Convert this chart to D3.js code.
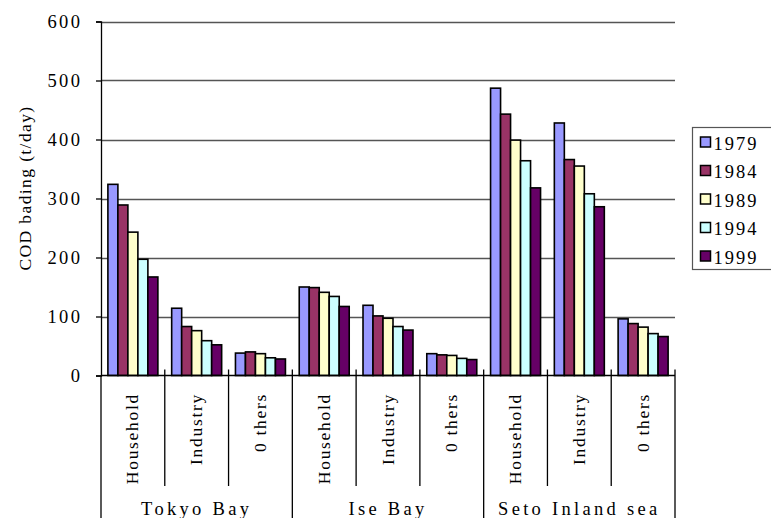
<!DOCTYPE html>
<html>
<head>
<meta charset="utf-8">
<script src="https://cdn.jsdelivr.net/npm/d3@7"></script>
<style>
  html, body { margin: 0; padding: 0; background: #fff; }
  svg { display: block; }
  text { font-family: "Liberation Serif", "DejaVu Serif", serif; fill: #000; }
</style>
</head>
<body>
<svg id="chart" width="771" height="518"></svg>
<script>
// COD loading by source, per bay and survey year (t/day)
const bays = ["Tokyo Bay", "Ise Bay", "Seto Inland sea"];
const sources = ["Household", "Industry", "Others"];
const sourceLabels = ["Household", "Industry", "0 thers"];
const years = ["1979", "1984", "1989", "1994", "1999"];
const yearColors = ["#9999FF", "#993366", "#FFFFCC", "#CCFFFF", "#660066"];

// values[bay][source] -> one value per year
const tokyoBay = [
  [324, 289, 243, 197, 167],
  [114, 83, 76, 59, 52],
  [38, 40, 37, 30, 28]
];
const iseBay = [
  [150, 149, 141, 134, 117],
  [119, 101, 97, 83, 77],
  [37, 35, 34, 29, 27]
];
const setoInlandSea = [
  [487, 443, 399, 364, 318],
  [428, 366, 355, 308, 286],
  [96, 88, 82, 71, 66]
];
const yTicks = [0, 100, 200, 300, 400, 500, 600];
const yTitle = "COD bading (t/day)";

const bayValues = [tokyoBay, iseBay, setoInlandSea];

// flat category list: one per bay/source pair
const categories = [];
bays.forEach((bay, bi) => sources.forEach((src, si) => {
  categories.push({ id: bay + "|" + src, bay: bi, source: si, label: sourceLabels[si], values: bayValues[bi][si] });
}));

const svg = d3.select("#chart");
const plotLeft = 101, plotRight = 675, plotTop = 21.5, plotBottom = 375.5;

const x = d3.scaleBand().domain(categories.map(d => d.id)).range([plotLeft, plotRight]).padding(0);
const xYear = d3.scaleBand().domain(years).range([0, x.bandwidth()]).paddingInner(0).paddingOuter(0.69);
const y = d3.scaleLinear().domain([0, 600]).range([plotBottom, plotTop]);
const color = d3.scaleOrdinal().domain(years).range(yearColors);

// gridlines
svg.append("g")
  .selectAll("line")
  .data(yTicks.filter(t => t > 0))
  .join("line")
  .attr("x1", plotLeft).attr("x2", plotRight)
  .attr("y1", d => Math.round(y(d)) + 0.5).attr("y2", d => Math.round(y(d)) + 0.5)
  .attr("stroke", "#555").attr("stroke-width", 1.3);

// y axis
const yAxis = svg.append("g")
  .attr("transform", `translate(${plotLeft},0)`)
  .call(d3.axisLeft(y).tickValues(yTicks).tickSize(5).tickPadding(16).tickFormat(d3.format("d")));
yAxis.select(".domain").attr("stroke", "#000").attr("stroke-width", 1.3);
yAxis.selectAll(".tick line").attr("stroke", "#000").attr("stroke-width", 1.3);
yAxis.selectAll(".tick text")
  .style("font-family", '"Liberation Serif", serif')
  .style("font-size", "18.5px")
  .style("letter-spacing", "2.4px")
  .attr("dx", 2.4)
  .attr("fill", "#000");

// y title
svg.append("text")
  .attr("transform", "translate(31,188) rotate(-90)")
  .attr("text-anchor", "middle")
  .style("font-size", "17.5px")
  .style("letter-spacing", "1.4px")
  .text(yTitle);

// bars
const groups = svg.append("g")
  .selectAll("g")
  .data(categories)
  .join("g")
  .attr("transform", d => `translate(${x(d.id)},0)`);

groups.selectAll("rect")
  .data(d => d.values.map((v, i) => ({ year: years[i], value: v })))
  .join("rect")
  .attr("x", d => xYear(d.year))
  .attr("width", xYear.bandwidth())
  .attr("y", d => y(d.value))
  .attr("height", d => plotBottom - y(d.value))
  .attr("fill", d => color(d.year))
  .attr("stroke", "#000")
  .attr("stroke-width", 1.6);

// x axis line
svg.append("line")
  .attr("x1", plotLeft).attr("x2", plotRight)
  .attr("y1", plotBottom).attr("y2", plotBottom)
  .attr("stroke", "#000").attr("stroke-width", 1.3);

// left axis extension through the category rows
svg.append("line")
  .attr("x1", plotLeft).attr("x2", plotLeft)
  .attr("y1", plotBottom).attr("y2", 518)
  .attr("stroke", "#000").attr("stroke-width", 1.3);

// category boundaries: short tick crossing the axis, then separators
const boundaries = categories.map((d, i) => ({ pos: x(d.id) + x.bandwidth(), i }));
svg.append("g").selectAll("line")
  .data(boundaries)
  .join("line")
  .attr("x1", d => d.pos).attr("x2", d => d.pos)
  .attr("y1", plotBottom - 6)
  .attr("y2", d => ((d.i + 1) % sources.length === 0) ? 518 : 486)
  .attr("stroke", "#000").attr("stroke-width", 1.3);

// source labels (rotated)
svg.append("g").selectAll("text")
  .data(categories)
  .join("text")
  .attr("transform", d => `translate(${x(d.id) + x.bandwidth() / 2 + 5.5},393) rotate(-90)`)
  .attr("text-anchor", "end")
  .style("font-size", "17.5px")
  .style("letter-spacing", "1.7px")
  .text(d => d.label);

// bay labels
svg.append("g").selectAll("text")
  .data(bays)
  .join("text")
  .attr("x", (d, i) => (x(categories[i * 3].id) + x(categories[i * 3 + 2].id) + x.bandwidth()) / 2)
  .attr("y", 515)
  .attr("text-anchor", "middle")
  .style("font-size", "18.5px")
  .style("letter-spacing", "3.3px")
  .text(d => d);

// legend
const legend = svg.append("g").attr("transform", "translate(692.5,127.5)");
legend.append("rect")
  .attr("width", 90).attr("height", 142)
  .attr("fill", "#fff").attr("stroke", "#555").attr("stroke-width", 1.2);
const item = legend.selectAll("g.item")
  .data(years)
  .join("g")
  .attr("class", "item")
  .attr("transform", (d, i) => `translate(0,${15 + i * 28.5})`);
item.append("rect")
  .attr("x", 8).attr("y", -5.5)
  .attr("width", 10).attr("height", 10)
  .attr("fill", d => color(d))
  .attr("stroke", "#000").attr("stroke-width", 1.5);
item.append("text")
  .attr("x", 21).attr("y", 7)
  .style("font-size", "18.5px")
  .style("letter-spacing", "2px")
  .text(d => d);
</script>
</body>
</html>
